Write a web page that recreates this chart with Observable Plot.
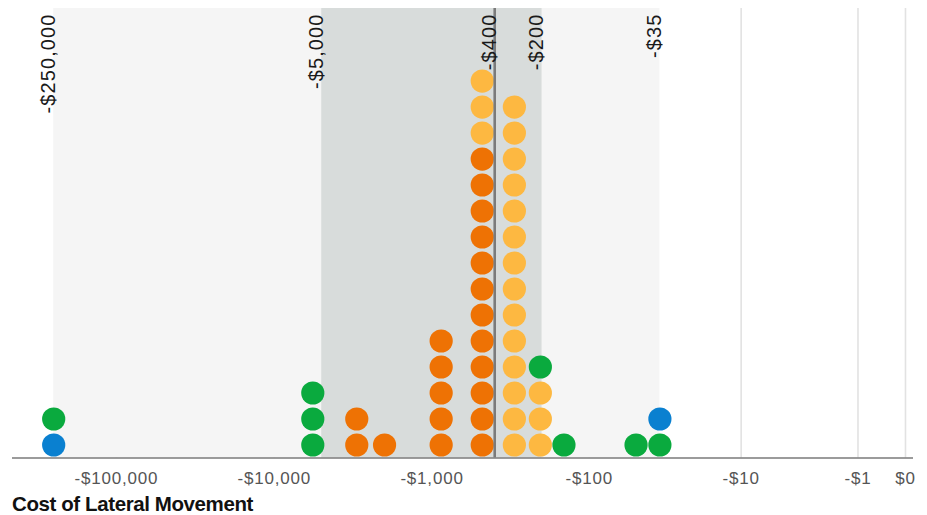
<!DOCTYPE html>
<html>
<head>
<meta charset="utf-8">
<script src="https://cdn.jsdelivr.net/npm/d3@7"></script>
<script src="https://cdn.jsdelivr.net/npm/@observablehq/plot@0.6"></script>
<style>
  html, body { margin: 0; padding: 0; background: #ffffff; }
  body { font-family: "Liberation Sans", Arial, sans-serif; width: 927px; }
  #title { font-weight: bold; font-size: 20.5px; line-height: 23px; color: #111; margin: 2px 0 0 12px; letter-spacing: -0.4px; }
</style>
</head>
<body>
<div id="chart"></div>
<div id="title">Cost of Lateral Movement</div>
<script>
// Dot groups: each group is a stack of identical cost values
const groupValues     = [-250000, -250000, -5700, -3000, -2000, -875, -480, -480, -300, -205, -205, -145, -50, -35, -35];
const groupCategories = ["Blue", "Green", "Green", "Dark orange", "Dark orange", "Dark orange", "Dark orange", "Light orange", "Light orange", "Light orange", "Green", "Green", "Green", "Green", "Blue"];
const groupCounts     = [1, 1, 3, 2, 1, 5, 12, 3, 14, 3, 1, 1, 1, 1, 1];

const categories     = ["Green", "Blue", "Dark orange", "Light orange"];
const categoryColors = ["#0aaa3e", "#0a80d0", "#ee7204", "#fdb841"];

// Reference lines and bands
const refValues = [-250000, -5000, -400, -200, -35];
const refLabels = ["-$250,000", "-$5,000", "-$400", "-$200", "-$35"];
const outerBand = [-250000, -35];
const innerBand = [-5000, -200];
const medianValue = -400;

// Axis ticks
const tickValues = [-100000, -10000, -1000, -100, -10, -1, 0];
const tickLabels = ["-$100,000", "-$10,000", "-$1,000", "-$100", "-$10", "-$1", "$0"];

const dots = groupValues.flatMap((v, i) =>
  d3.range(groupCounts[i]).map(() => ({cost: v, category: groupCategories[i]}))
);

const chart = Plot.plot({
  width: 927,
  height: 490,
  marginTop: 8,
  marginBottom: 32.5,
  marginLeft: 12,
  marginRight: 14,
  style: {fontFamily: "'Liberation Sans', Arial, sans-serif", background: "#ffffff"},
  x: {type: "symlog", constant: 1, domain: [-456000, 0.124], label: null},
  y: {domain: [0, 17.29], axis: null},
  color: {domain: categories, range: categoryColors},
  marks: [
    Plot.ruleX(tickValues, {stroke: "#e2e2e2", strokeWidth: 1.6}),
    Plot.rect([outerBand], {x1: d => d[0], x2: d => d[1], fill: "#f5f5f5"}),
    Plot.rect([innerBand], {x1: d => d[0], x2: d => d[1], fill: "#d8dcdb"}),
    Plot.dot(dots, Plot.stackY({x: "cost", y: () => 1, fill: "category", r: 11.6})),
    Plot.ruleX([medianValue], {stroke: "#7b7b7b", strokeWidth: 2.6}),
    Plot.text(refValues, {
      x: d => d,
      text: (d, i) => refLabels[i],
      frameAnchor: "top",
      rotate: -90,
      textAnchor: "end",
      lineAnchor: "bottom",
      dy: 5,
      dx: 1,
      fontSize: 20,
      fill: "#1a1a1a"
    }),
    Plot.ruleY([0], {stroke: "#7a7a7a", strokeWidth: 1.5}),
    Plot.axisX({
      ticks: tickValues,
      tickFormat: d => tickLabels[tickValues.indexOf(d)],
      tickSize: 0,
      tickPadding: 14,
      fontSize: 17,
      label: null,
      fill: "#555555"
    })
  ]
});

d3.select(chart).selectAll('g[aria-label="text"] text').attr("letter-spacing", "1.1px");
d3.select(chart).selectAll('g[aria-label="x-axis tick label"] text').attr("letter-spacing", "0.8px");

document.getElementById("chart").appendChild(chart);
</script>
</body>
</html>
